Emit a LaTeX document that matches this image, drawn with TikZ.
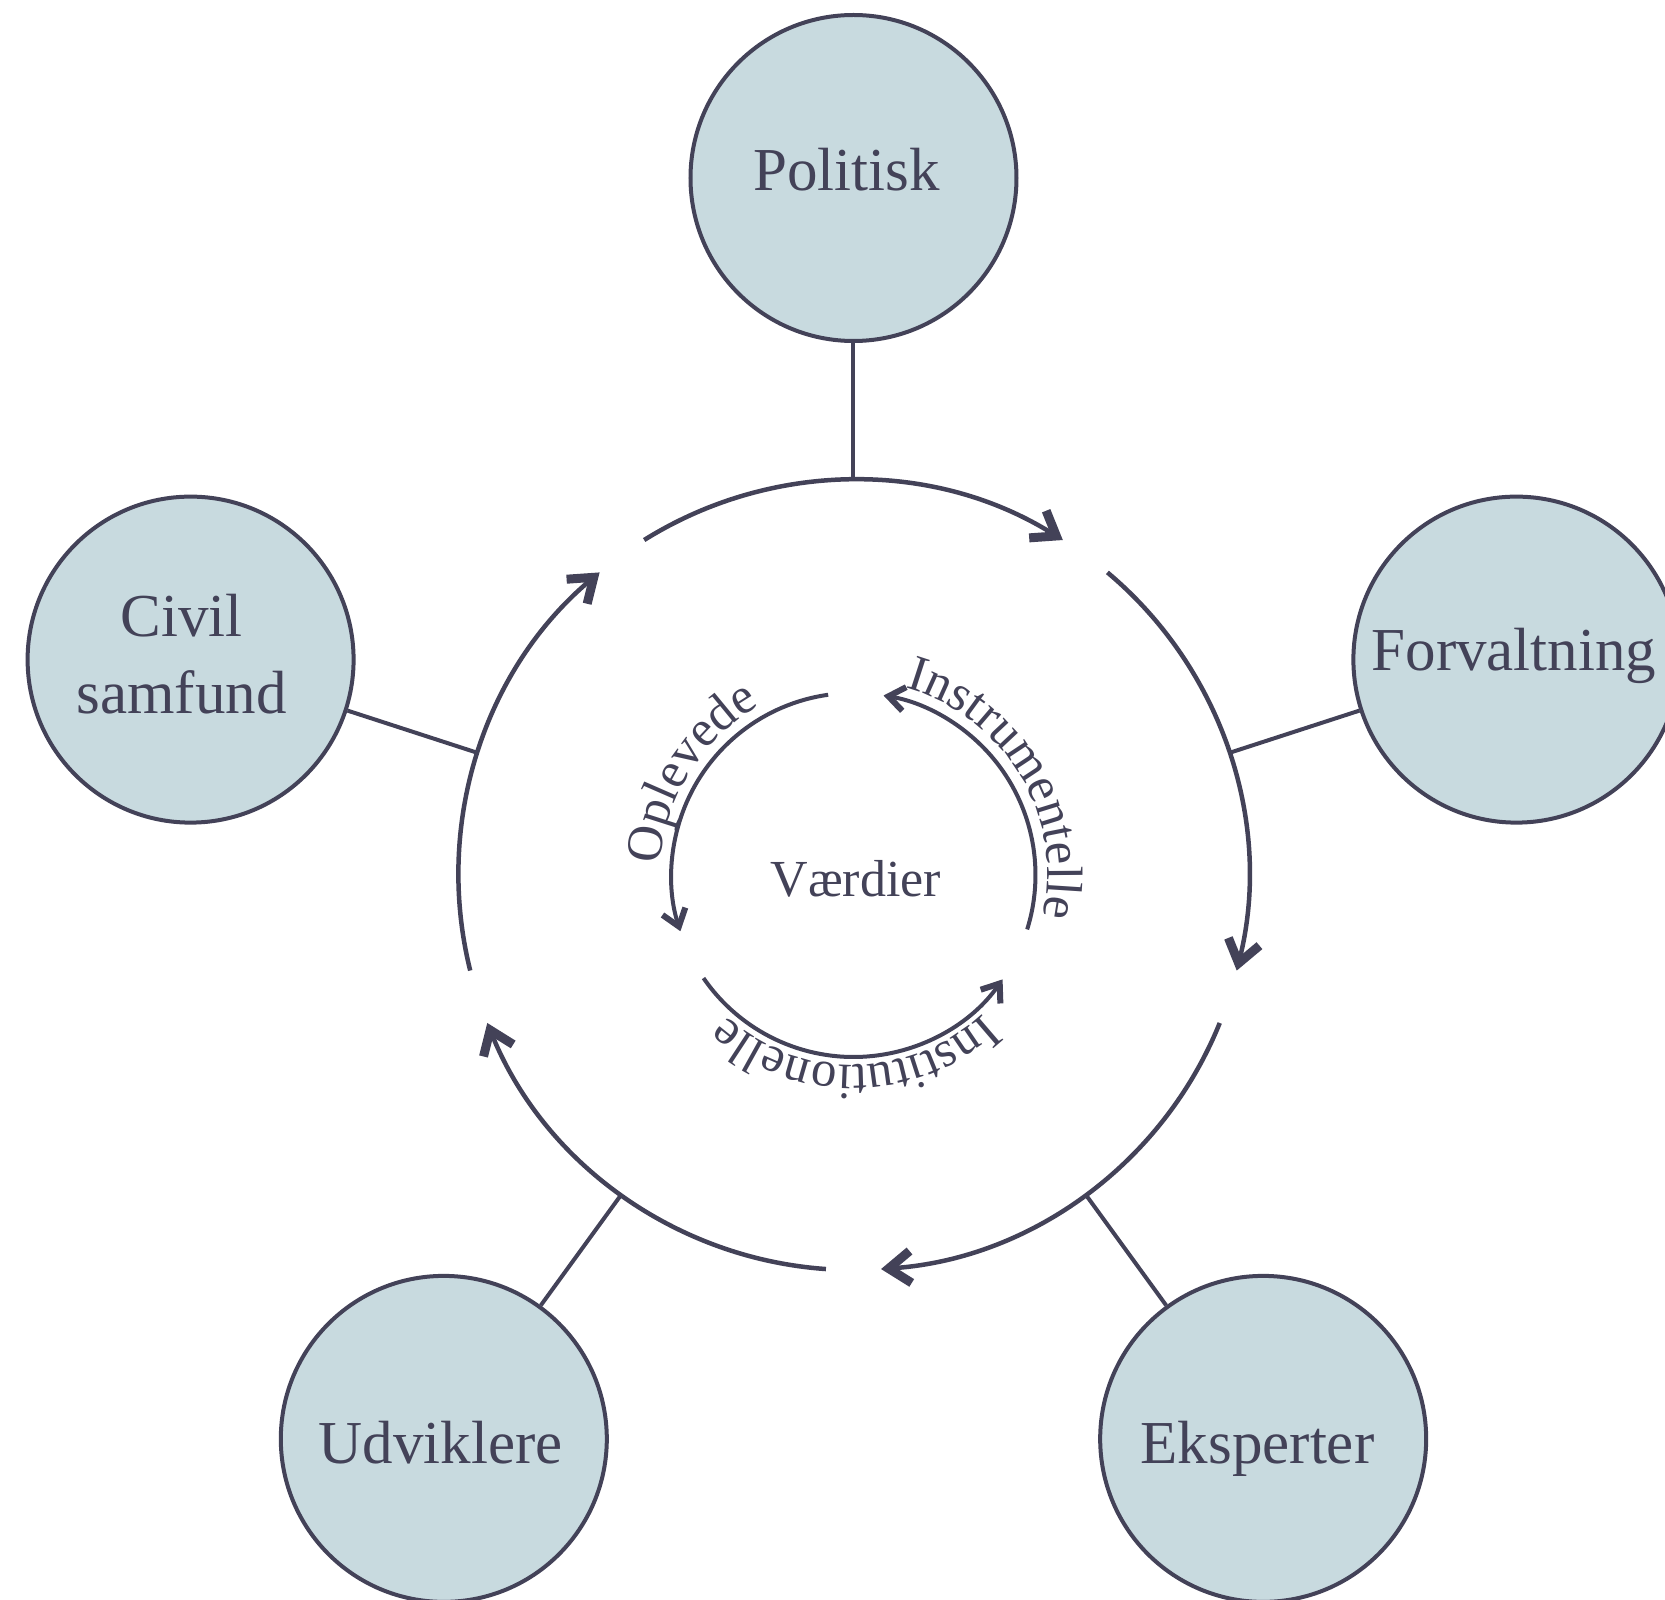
\documentclass[tikz,border=0pt]{standalone}
\usepackage{fontspec}
\setmainfont{Liberation Serif}
\usetikzlibrary{arrows.meta,decorations.text}
\definecolor{ink}{RGB}{67,66,88}
\definecolor{hubfill}{RGB}{200,218,223}
\newcommand{\bigtxt}{\fontsize{61}{76.7}\selectfont}
\newcommand{\arctxt}{\fontsize{51}{51}\selectfont}
\newcommand{\midtxt}{\fontsize{52}{52}\selectfont}
\begin{document}
\begin{tikzpicture}[x=1pt,y=1pt,
  hub/.style={circle, draw=ink, fill=hubfill, line width=4pt, minimum size=326pt, inner sep=0pt},
  lbl/.style={anchor=base, text=ink, font=\bigtxt, inner sep=0pt},
  midlbl/.style={anchor=base, text=ink, font=\midtxt, inner sep=0pt},
  ring/.style={draw=ink, line width=4.5pt, -{Straight Barb[sharp,length=22pt,width=32pt,line width=9pt]}},
  inring/.style={draw=ink, line width=4pt, -{Straight Barb[sharp,length=16pt,width=24pt,line width=6pt]}},
  conn/.style={draw=ink, line width=4pt},
  arclbl/.style={decorate, decoration={text along path, text align=center, text color=ink, text={|\arctxt|#1}}},
]
\useasboundingbox (-853.5,-724) rectangle (811.5,875);
\clip (-853.5,-724) rectangle (811.5,875);

% outer circles
\node[hub] (pol) at (90:697) {};
\node[hub] (forv) at (18:697) {};
\node[hub] (eksp) at (-54:697) {};
\node[hub] (udv) at (234:697) {};
\node[hub] (civ) at (162:697) {};

% labels
\node[lbl] (polt) at (-6.8,684.3) {Politisk};
\node[lbl] (forvt) at (660.5,204.3) {Forvaltning};
\node[lbl] (civt1) at (-671.8,238.3) {Civil};
\node[lbl] (civt2) at (-671.8,161.7) {samfund};
\node[lbl] (udvt) at (-412.7,-588.3) {Udviklere};
\node[lbl] (ekspt) at (404,-588.3) {Eksperter};
\node[midlbl] (vaerd) at (2.3,-21.7) {Værdier};

% points on the ring
\coordinate (k1) at (90:395);
\coordinate (k2) at (18:395);
\coordinate (k3) at (-54:395);
\coordinate (k4) at (-126:395);
\coordinate (k5) at (162:395);

% connectors
\draw[conn] (k1) -- (pol);
\draw[conn] (k2) -- (forv);
\draw[conn] (k3) -- (eksp);
\draw[conn] (k4) -- (udv);
\draw[conn] (k5) -- (civ);

% outer ring segments
\coordinate (r1) at (122:395);
\coordinate (r2) at (50:395);
\coordinate (r3) at (-22:395);
\coordinate (r4) at (-94:395);
\coordinate (r5) at (194:395);
\draw[ring] (r1) arc[start angle=122, end angle=58, radius=395];
\draw[ring] (r2) arc[start angle=50, end angle=-14, radius=395];
\draw[ring] (r3) arc[start angle=-22, end angle=-86, radius=395];
\draw[ring] (r4) arc[start angle=-94, end angle=-158, radius=395];
\draw[ring] (r5) arc[start angle=194, end angle=130, radius=395];

% inner ring segments
\coordinate (i1) at (98:182);
\coordinate (i2) at (214.5:182);
\coordinate (i3) at (-17.4:182);
\draw[inring] (i1) arc[start angle=98, end angle=198, radius=182];
\draw[inring] (i2) arc[start angle=214.5, end angle=325, radius=182];
\draw[inring] (i3) arc[start angle=-17.4, end angle=80.5, radius=182];

% text along the inner arcs
\coordinate (t1) at (208:193);
\coordinate (t2) at (91:194);
\coordinate (t3) at (-29.5:190);
\path[arclbl=Oplevede] (t1) arc[start angle=208, end angle=88, radius=193];
\path[arclbl=Instrumentelle] (t2) arc[start angle=91, end angle=-29, radius=194];
\path[arclbl=Institutionelle] (t3) arc[start angle=-29.5, end angle=-149.5, radius=190];
\end{tikzpicture}
\end{document}
